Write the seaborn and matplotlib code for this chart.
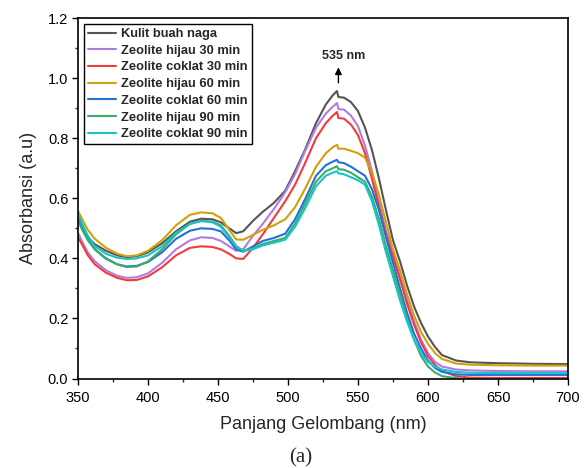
import numpy as np
import pandas as pd
import matplotlib
matplotlib.use("Agg")
import matplotlib.pyplot as plt
from matplotlib.ticker import MultipleLocator, FormatStrFormatter
from matplotlib.lines import Line2D
import seaborn as sns

wavelength = [350, 353, 357, 362, 370, 378, 385, 392, 400, 410, 420, 430, 438, 446, 452, 458,
              463, 468, 475, 482, 490, 498, 505, 512, 520, 527, 532, 535, 536, 540, 545, 550,
              555, 560, 565, 570, 575, 580, 585, 590, 595, 600, 605, 610, 620, 630, 650, 675, 700]

kulit = [0.535, 0.50, 0.47, 0.447, 0.425, 0.41, 0.404, 0.407, 0.42, 0.45, 0.49, 0.522, 0.532, 0.53, 0.52, 0.50,
         0.484, 0.49, 0.525, 0.555, 0.585, 0.625, 0.69, 0.76, 0.85, 0.912, 0.943, 0.957, 0.937, 0.935, 0.92, 0.89,
         0.835, 0.76, 0.665, 0.56, 0.46, 0.39, 0.31, 0.24, 0.185, 0.14, 0.105, 0.078, 0.06, 0.054, 0.051, 0.049, 0.048]

hijau30 = [0.485, 0.455, 0.42, 0.39, 0.36, 0.342, 0.335, 0.337, 0.35, 0.385, 0.43, 0.46, 0.47, 0.468, 0.458, 0.44,
           0.425, 0.43, 0.475, 0.515, 0.565, 0.62, 0.68, 0.755, 0.835, 0.882, 0.905, 0.917, 0.897, 0.895, 0.875, 0.84,
           0.775, 0.69, 0.59, 0.49, 0.42, 0.34, 0.26, 0.19, 0.13, 0.085, 0.055, 0.04, 0.03, 0.027, 0.025, 0.024, 0.024]

coklat30 = [0.47, 0.445, 0.41, 0.38, 0.352, 0.335, 0.327, 0.328, 0.34, 0.37, 0.41, 0.435, 0.44, 0.438, 0.43, 0.415,
            0.40, 0.398, 0.435, 0.48, 0.535, 0.59, 0.645, 0.715, 0.80, 0.85, 0.875, 0.887, 0.867, 0.865, 0.845, 0.81,
            0.75, 0.665, 0.57, 0.48, 0.405, 0.33, 0.25, 0.18, 0.12, 0.075, 0.045, 0.025, 0.008, 0.003, 0.002, 0.002, 0.002]

hijau60 = [0.558, 0.53, 0.495, 0.465, 0.435, 0.415, 0.407, 0.41, 0.425, 0.46, 0.51, 0.545, 0.553, 0.55, 0.535, 0.495,
           0.463, 0.462, 0.478, 0.495, 0.51, 0.53, 0.57, 0.63, 0.705, 0.75, 0.77, 0.778, 0.765, 0.765, 0.758, 0.75,
           0.735, 0.685, 0.61, 0.52, 0.43, 0.36, 0.28, 0.21, 0.155, 0.115, 0.085, 0.065, 0.05, 0.046, 0.044, 0.043, 0.043]

coklat60 = [0.53, 0.50, 0.465, 0.43, 0.40, 0.38, 0.373, 0.375, 0.388, 0.42, 0.465, 0.492, 0.50, 0.498, 0.49, 0.46,
            0.43, 0.422, 0.44, 0.458, 0.468, 0.482, 0.53, 0.595, 0.675, 0.71, 0.722, 0.728, 0.72, 0.717, 0.705, 0.69,
            0.675, 0.63, 0.56, 0.47, 0.385, 0.30, 0.22, 0.15, 0.10, 0.06, 0.035, 0.022, 0.014, 0.012, 0.012, 0.012, 0.012]

hijau90 = [0.525, 0.495, 0.46, 0.43, 0.398, 0.38, 0.371, 0.373, 0.39, 0.43, 0.48, 0.515, 0.525, 0.522, 0.51, 0.475,
           0.44, 0.425, 0.433, 0.448, 0.458, 0.468, 0.515, 0.58, 0.655, 0.69, 0.70, 0.707, 0.697, 0.695, 0.685, 0.67,
           0.655, 0.605, 0.53, 0.44, 0.36, 0.28, 0.20, 0.13, 0.075, 0.04, 0.02, 0.008, 0.001, -0.003, -0.005, -0.006, -0.006]

coklat90 = [0.547, 0.515, 0.475, 0.44, 0.415, 0.402, 0.398, 0.40, 0.41, 0.44, 0.485, 0.515, 0.524, 0.52, 0.505, 0.47,
            0.44, 0.425, 0.43, 0.443, 0.452, 0.462, 0.505, 0.565, 0.64, 0.675, 0.685, 0.69, 0.683, 0.68, 0.67, 0.66,
            0.645, 0.59, 0.51, 0.42, 0.34, 0.26, 0.19, 0.13, 0.085, 0.055, 0.04, 0.03, 0.022, 0.019, 0.018, 0.018, 0.018]

labels = ["Kulit buah naga", "Zeolite hijau 30 min", "Zeolite coklat 30 min", "Zeolite hijau 60 min",
          "Zeolite coklat 60 min", "Zeolite hijau 90 min", "Zeolite coklat 90 min"]
series = [kulit, hijau30, coklat30, hijau60, coklat60, hijau90, coklat90]
colors = ["#555555", "#b07ce0", "#f23b3b", "#d4a00a", "#2370dc", "#3aad6a", "#17c4c8"]

peak_wl = 535
peak_label = "535 nm"

sns.set_theme(style="ticks")
plt.rcParams['font.family'] = ['Liberation Sans', 'DejaVu Sans']

frames = []
for lab, vals in zip(labels, series):
    frames.append(pd.DataFrame({"wl": wavelength, "abs": vals, "sample": lab}))
df = pd.concat(frames, ignore_index=True)

fig = plt.figure(figsize=(5.84, 4.68), dpi=100)
ax = fig.add_axes([0.1336, 0.1912, 0.8390, 0.7703])

sns.lineplot(data=df, x="wl", y="abs", hue="sample", hue_order=labels,
             palette=dict(zip(labels, colors)), linewidth=1.5, ax=ax, legend=False,
             sort=False, estimator=None)

ax.set_xlim(350, 700)
ax.set_ylim(0, 1.2)
ax.xaxis.set_major_locator(MultipleLocator(50))
ax.xaxis.set_minor_locator(MultipleLocator(25))
ax.yaxis.set_major_locator(MultipleLocator(0.2))
ax.yaxis.set_minor_locator(MultipleLocator(0.1))
ax.yaxis.set_major_formatter(FormatStrFormatter('%.1f'))
ax.tick_params(axis='both', which='major', direction='out', length=4.5, width=1.0,
               labelsize=10.5, colors='black', pad=2.5)
ax.tick_params(axis='x', which='major', pad=4.5)
ax.tick_params(axis='both', which='minor', direction='out', length=2.5, width=1.0)
for sp in ax.spines.values():
    sp.set_visible(True)
    sp.set_linewidth(1.2)
    sp.set_color('black')

ax.set_xlabel("Panjang Gelombang (nm)", fontsize=13, labelpad=8)
ax.set_ylabel("Absorbansi (a.u)", fontsize=13, labelpad=8)

handles = [Line2D([0], [0], color=c, lw=1.5) for c in colors]
leg = ax.legend(handles, labels, loc='upper left', bbox_to_anchor=(0.012, 0.983),
                prop={'weight': 'bold', 'size': 9.3}, frameon=True, fancybox=False,
                edgecolor='black', framealpha=1, handlelength=2.2, handletextpad=0.4,
                labelspacing=0.36, borderpad=0.3, borderaxespad=0.0)
leg.get_frame().set_linewidth(1.0)

ax.annotate("", xy=(peak_wl + 1, 1.045), xytext=(peak_wl + 1, 0.975),
            arrowprops=dict(arrowstyle='-|>', color='black', lw=1.0, mutation_scale=10))
ax.text(peak_wl + 5, 1.073, peak_label, fontsize=9, fontweight='bold', ha='center', va='center')

fig.text(0.515, 0.021, "(a)", fontsize=15, ha='center', va='center',
         family=['Liberation Serif', 'DejaVu Serif'])

fig.savefig("out.png", dpi=100)
